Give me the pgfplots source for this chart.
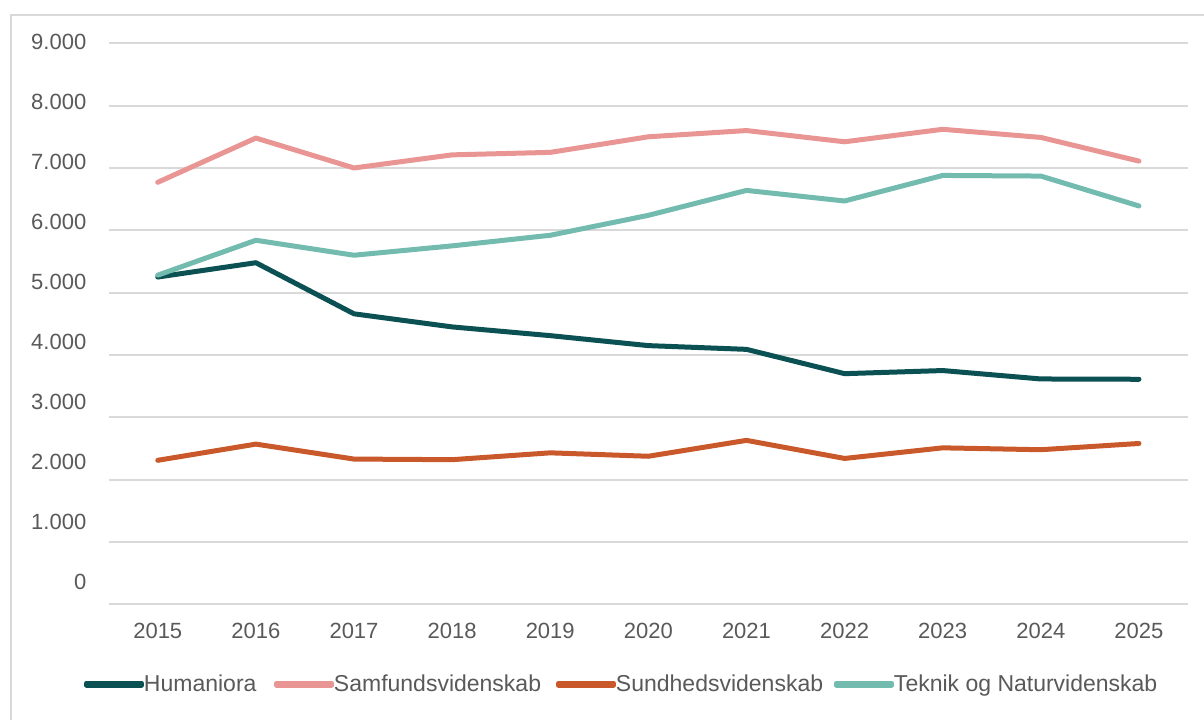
\documentclass[border=0pt]{standalone}
\usepackage{fontspec}
\setmainfont{Liberation Sans}
\usepackage{pgfplots}
\pgfplotsset{compat=1.18}
\definecolor{hum}{HTML}{0B5052}
\definecolor{sam}{HTML}{E89593}
\definecolor{sun}{HTML}{C9582B}
\definecolor{tek}{HTML}{72BBAE}
\definecolor{txt}{HTML}{595959}
\definecolor{grid}{HTML}{D9D9D9}
\begin{document}
\begin{tikzpicture}
\path[use as bounding box] (0pt,0pt) rectangle (602pt,360pt);
\draw[grid, line width=0.8pt] (5.5pt,0pt) -- (5.5pt,352.5pt) -- (602pt,352.5pt);
\begin{axis}[
  scale only axis,
  width=539.65pt, height=281.45pt,
  at={(54.35pt,57.85pt)}, anchor=south west,
  xmin=2014.5, xmax=2025.5, ymin=0, ymax=9030,
  axis line style={draw=none},
  clip=false,
  major tick length=0pt,
  xtick={2015,2016,2017,2018,2019,2020,2021,2022,2023,2024,2025},
  xticklabels={2015,2016,2017,2018,2019,2020,2021,2022,2023,2024,2025},
  ytick={358,1320,2283,3245,4208,5170,6133,7095,8058,9020},
  yticklabels={0,1.000,2.000,3.000,4.000,5.000,6.000,7.000,8.000,9.000},
  extra y ticks={0,1000,2000,3000,4000,5000,6000,7000,8000,9000},
  extra y tick labels={},
  extra y tick style={grid=major},
  major grid style={draw=grid, line width=1pt},
  tick label style={font=\fontsize{11}{13}\selectfont, text=txt, inner sep=0pt},
  yticklabel style={anchor=east, xshift=-11pt},
  xticklabel style={anchor=north, yshift=-9.3pt},
  legend columns=4,
  legend style={draw=none, fill=none, inner sep=0pt, outer sep=0pt,
    at={(-0.0229,-0.1434)}, anchor=west,
    font=\fontsize{11.5}{13}\selectfont, text=txt,
    nodes={inner sep=0pt},
    /tikz/every odd column/.append style={column sep=0pt},
    /tikz/every even column/.append style={column sep=5.5pt}},
  legend image code/.code={
    \path (0pt,0pt) rectangle (27.5pt,1pt);
    \draw[#1, line width=2.5pt, line cap=round] (1.25pt,1pt) -- (26.25pt,1pt);
  },
  every axis plot/.append style={line width=2.5pt, line cap=round, line join=round, mark=none},
]
\addplot[color=hum] coordinates {
(2015,5250) (2016,5480) (2017,4660) (2018,4450) (2019,4310) (2020,4150)
(2021,4090) (2022,3700) (2023,3750) (2024,3615) (2025,3610)};
\addlegendentry{\makebox[59.5pt][l]{Humaniora}}
\addplot[color=sam] coordinates {
(2015,6770) (2016,7480) (2017,7000) (2018,7210) (2019,7250) (2020,7500)
(2021,7600) (2022,7420) (2023,7620) (2024,7490) (2025,7110)};
\addlegendentry{\makebox[105.5pt][l]{Samfundsvidenskab}}
\addplot[color=sun] coordinates {
(2015,2310) (2016,2570) (2017,2330) (2018,2320) (2019,2430) (2020,2375)
(2021,2630) (2022,2340) (2023,2510) (2024,2480) (2025,2580)};
\addlegendentry{\makebox[103.5pt][l]{Sundhedsvidenskab}}
\addplot[color=tek] coordinates {
(2015,5280) (2016,5840) (2017,5600) (2018,5750) (2019,5920) (2020,6240)
(2021,6640) (2022,6470) (2023,6880) (2024,6870) (2025,6390)};
\addlegendentry{Teknik og Naturvidenskab}
\end{axis}
\end{tikzpicture}
\end{document}
